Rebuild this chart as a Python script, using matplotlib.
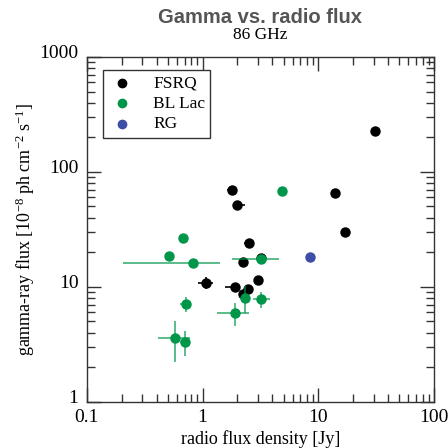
import numpy as np
import matplotlib.pyplot as plt
import matplotlib.transforms as mtransforms
from matplotlib.ticker import LogLocator, NullFormatter, FixedFormatter, FixedLocator

# FSRQ
fsrq_x = [1.79, 1.97, 2.52, 2.25, 3.18, 1.06, 1.92, 2.45, 2.25, 2.98, 31.1, 13.9, 17.1]
fsrq_y = [70.2, 51.6, 24.1, 16.6, 17.8, 10.9, 10.0, 9.55, 8.75, 11.4, 226, 66, 30.1]
fsrq_xlo = [1.62, 1.92, 2.27, 2.25, 3.0, 0.92, 1.55, 2.3, 2.25, 2.78, 31.1, 13.9, 17.1]
fsrq_xhi = [1.97, 2.3, 2.78, 2.25, 3.35, 1.22, 2.02, 2.6, 2.25, 3.2, 31.1, 13.9, 17.1]
fsrq_ylo = [70.2, 51.6, 22.8, 16.6, 17.0, 9.6, 10.0, 8.8, 8.75, 10.4, 226, 66, 30.1]
fsrq_yhi = [70.2, 51.6, 25.4, 16.6, 18.6, 12.2, 10.0, 10.4, 8.75, 12.5, 226, 66, 30.1]

# BL Lac
bll_x = [4.83, 0.68, 0.51, 0.82, 3.18, 2.32, 3.18, 0.72, 1.9, 0.58, 0.71]
bll_y = [68.7, 26.8, 18.6, 16.0, 17.4, 8.07, 7.9, 7.07, 5.95, 3.62, 3.33]
bll_xlo = [4.6, 0.68, 0.47, 0.204, 1.79, 2.2, 2.75, 0.64, 1.34, 0.41, 0.64]
bll_xhi = [4.83, 0.68, 0.55, 1.42, 4.55, 2.45, 3.8, 0.8, 2.52, 0.77, 0.78]
bll_ylo = [68.7, 26.8, 18.6, 16.0, 16.2, 5.9, 6.5, 6.1, 4.6, 2.2, 2.5]
bll_yhi = [68.7, 26.8, 18.6, 16.0, 18.6, 10.1, 9.1, 8.2, 7.2, 5.0, 4.1]

# RG
rg_x = [8.5]
rg_y = [18.3]

black = '#000000'
green = '#00964a'
blue = '#3d4ea6'

plt.rcParams['font.family'] = ['Liberation Serif', 'DejaVu Serif']
plt.rcParams['mathtext.fontset'] = 'custom'
plt.rcParams['mathtext.rm'] = 'Liberation Serif'
plt.rcParams['mathtext.it'] = 'Liberation Serif:italic'
plt.rcParams['mathtext.default'] = 'regular'

fig = plt.figure(figsize=(4.48, 4.48), dpi=100)
ax = fig.add_axes([0.194, 0.103, 0.775, 0.770])


def errs(v, lo, hi):
    v = np.array(v)
    return [v - np.array(lo), np.array(hi) - v]


ax.errorbar(fsrq_x, fsrq_y, xerr=errs(fsrq_x, fsrq_xlo, fsrq_xhi),
            yerr=errs(fsrq_y, fsrq_ylo, fsrq_yhi), fmt='o', color=black,
            ecolor=black, elinewidth=1.2, markersize=6.5, capsize=0, zorder=3)
ax.errorbar(bll_x, bll_y, xerr=errs(bll_x, bll_xlo, bll_xhi),
            yerr=errs(bll_y, bll_ylo, bll_yhi), fmt='o', color=green,
            ecolor=(0.0, 0.59, 0.29, 0.75), elinewidth=1.2, markersize=6.5,
            capsize=0, zorder=4)
ax.plot(rg_x, rg_y, 'o', color=blue, markersize=6.5, zorder=4)

ax.set_xscale('log')
ax.set_yscale('log')
ax.set_xlim(0.1, 100)
ax.set_ylim(1, 1000)

ax.xaxis.set_major_locator(FixedLocator([0.1, 1, 10, 100]))
ax.xaxis.set_major_formatter(FixedFormatter(['0.1', '1', '10', '100']))
ax.yaxis.set_major_locator(FixedLocator([1, 10, 100, 1000]))
ax.yaxis.set_major_formatter(FixedFormatter(['1', '10', '100', '1000']))
ax.xaxis.set_minor_locator(LogLocator(base=10, subs=np.arange(2, 10)))
ax.yaxis.set_minor_locator(LogLocator(base=10, subs=np.arange(2, 10)))
ax.xaxis.set_minor_formatter(NullFormatter())
ax.yaxis.set_minor_formatter(NullFormatter())

ax.tick_params(which='both', direction='in', top=True, right=True,
               color='#333333', labelsize=14)
ax.tick_params(axis='y', pad=6)
ax.tick_params(axis='x', pad=5)
ax.tick_params(which='major', length=10, width=1.0)
ax.tick_params(which='minor', length=6, width=1.0)
for s in ax.spines.values():
    s.set_color('#333333')
    s.set_linewidth(1.0)

# y tick labels sit slightly above their ticks
shift = mtransforms.ScaledTranslation(0, 4 / 72, fig.dpi_scale_trans)
for lab in ax.get_yticklabels():
    lab.set_transform(lab.get_transform() + shift)

ax.set_xlabel('radio flux density [Jy]', fontsize=13, labelpad=3)
ax.set_ylabel('gamma-ray flux [10$^{-8}$ ph cm$^{-2}$ s$^{-1}$]', fontsize=13,
              labelpad=2)

fig.text(0.58, 0.948, 'Gamma vs. radio flux', ha='center', fontsize=14.5,
         fontweight='bold', color='#555555', family=['Liberation Sans'])
fig.text(0.58, 0.912, '86 GHz', ha='center', fontsize=12.5, color='black')

h1 = ax.scatter([], [], color=black, s=36)
h2 = ax.scatter([], [], color=green, s=36)
h3 = ax.scatter([], [], color=blue, s=36)
leg = ax.legend([h1, h2, h3], ['FSRQ', 'BL Lac', 'RG'], loc='upper left',
                bbox_to_anchor=(0.046, 0.962), borderaxespad=0, fontsize=12.5,
                frameon=True, fancybox=False, framealpha=1, edgecolor='#333333',
                handletextpad=1.0, borderpad=0.3, labelspacing=0.25,
                handlelength=1.6)
leg.get_frame().set_linewidth(1.0)

fig.savefig('out.png', dpi=100)
